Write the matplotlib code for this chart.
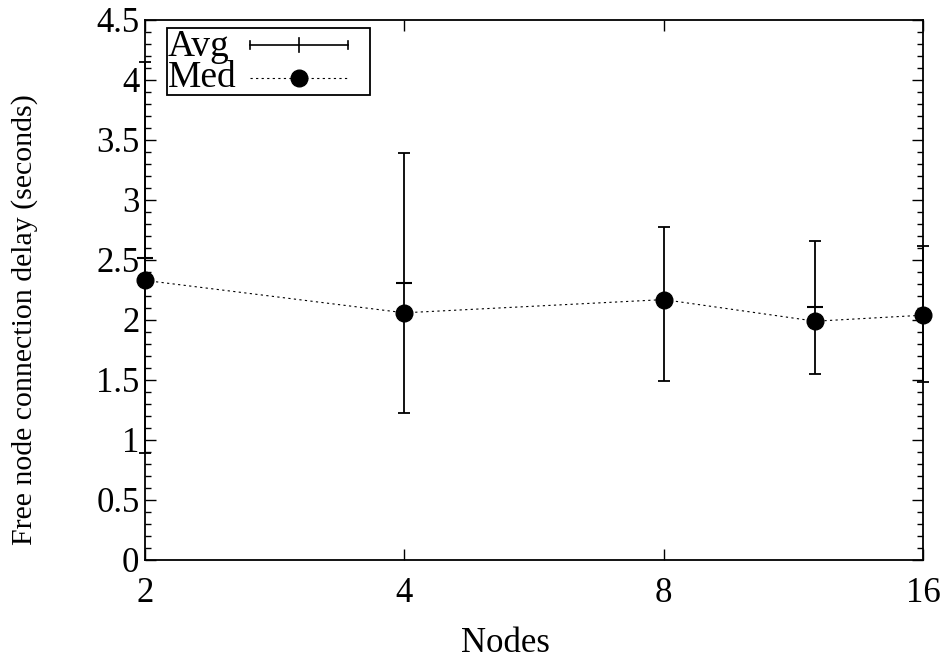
import matplotlib
matplotlib.use("Agg")
import matplotlib.pyplot as plt
from matplotlib.ticker import FixedLocator, MultipleLocator, NullLocator
from matplotlib.lines import Line2D
from matplotlib.patches import Rectangle
import numpy as np

nodes = [2, 4, 8, 12, 16]
avg = [2.52, 2.31, 2.17, 2.11, 2.05]
err_low = [0.89, 1.225, 1.49, 1.55, 1.48]
err_high = [4.15, 3.39, 2.775, 2.66, 2.62]
med = [2.33, 2.06, 2.17, 1.99, 2.04]
xticks = [2, 4, 8, 16]
xticklabels = ["2", "4", "8", "16"]
yticks = [0, 0.5, 1, 1.5, 2, 2.5, 3, 3.5, 4, 4.5]
yticklabels = ["0", "0.5", "1", "1.5", "2", "2.5", "3", "3.5", "4", "4.5"]

plt.rcParams['font.family'] = ['Liberation Serif', 'DejaVu Serif']

fig = plt.figure(figsize=(9.44, 6.61), dpi=100)
AX_L, AX_R, AX_T, AX_B = 145, 923, 20, 560
ax = fig.add_axes([AX_L/944, 1 - AX_B/661, (AX_R-AX_L)/944, (AX_B-AX_T)/661])

def fx(px):
    return (px - AX_L) / (AX_R - AX_L)

def fy(py):
    return (AX_B - py) / (AX_B - AX_T)

ax.set_xscale('log', base=2)
ax.set_xlim(2, 16)
ax.set_ylim(0, 4.5)

avg_a = np.array(avg)
yerr = [avg_a - np.array(err_low), np.array(err_high) - avg_a]
eb = ax.errorbar(nodes, avg, yerr=yerr, fmt='none', ecolor='black',
                 elinewidth=1.3, capsize=4.5, capthick=1.3, zorder=3)
for artist in eb.lines[1] + eb.lines[2]:
    artist.set_clip_on(False)
ax.plot(nodes, avg, linestyle='none', marker='_', markersize=12,
        markeredgewidth=1.5, color='black', clip_on=False, zorder=3)
ax.plot(nodes, med, linestyle=(0, (2, 3)), linewidth=0.8, color='black',
        marker='o', markersize=12, markerfacecolor='black',
        markeredgecolor='black', clip_on=False, zorder=4)

ax.xaxis.set_major_locator(FixedLocator(xticks))
ax.set_xticklabels(xticklabels)
ax.xaxis.set_minor_locator(NullLocator())
ax.yaxis.set_major_locator(FixedLocator(yticks))
ax.set_yticklabels(yticklabels)
ax.yaxis.set_minor_locator(MultipleLocator(0.1))

ax.tick_params(axis='both', which='major', direction='in', length=8, width=1,
               top=True, right=True, labelsize=25)
ax.tick_params(axis='y', which='major', pad=4)
ax.tick_params(axis='x', which='major', pad=12)
ax.tick_params(axis='y', which='minor', direction='in', length=4.5, width=1,
               right=True, left=True)
for s in ax.spines.values():
    s.set_linewidth(1.3)

ax.set_xlabel('Nodes', fontsize=25)
ax.xaxis.set_label_coords(0.463, fy(643), transform=ax.transAxes)
ax.xaxis.label.set_va('center')
ax.set_ylabel('Free node connection delay (seconds)', fontsize=21.5)
ax.yaxis.set_label_coords(fx(25), fy(320), transform=ax.transAxes)
ax.yaxis.label.set_va('center')

# legend (drawn manually to match gnuplot key layout)
tr = ax.transAxes
ax.add_patch(Rectangle((fx(167), fy(95)), fx(370) - fx(167), fy(28) - fy(95),
                       transform=tr, fill=True, facecolor='white',
                       edgecolor='black', linewidth=1.3, clip_on=False, zorder=5))
ax.text(fx(168), fy(47), 'Avg', transform=tr, fontsize=27, ha='left',
        va='center', zorder=6)
ax.text(fx(168), fy(78), 'Med', transform=tr, fontsize=27, ha='left',
        va='center', zorder=6)
y1 = fy(45)
ax.add_line(Line2D([fx(250), fx(348)], [y1, y1], transform=tr, color='black',
                   linewidth=1.2, zorder=6, clip_on=False))
for xx, hh in [(250, 4), (348, 4), (299, 7)]:
    ax.add_line(Line2D([fx(xx), fx(xx)], [fy(45 - hh), fy(45 + hh)],
                       transform=tr, color='black', linewidth=1.2, zorder=6,
                       clip_on=False))
y2 = fy(78)
ax.add_line(Line2D([fx(250), fx(348)], [y2, y2], transform=tr, color='black',
                   linestyle=(0, (2, 3)), linewidth=0.8, zorder=6, clip_on=False))
ax.add_line(Line2D([fx(299)], [y2], transform=tr, color='black', marker='o',
                   markersize=12, linestyle='none', zorder=7, clip_on=False))

fig.savefig('out.png', dpi=100)
